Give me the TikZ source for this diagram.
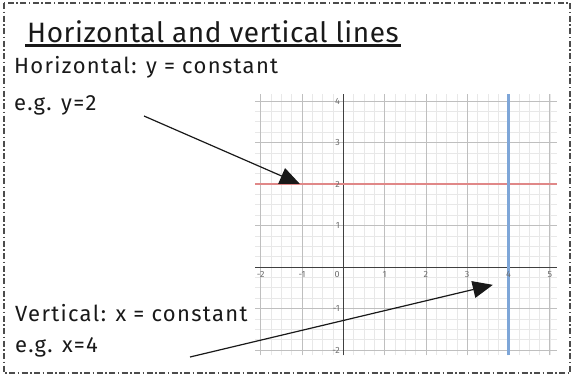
\documentclass[tikz,border=0pt]{standalone}
\usepackage{fontspec}
\setmainfont{Fira Sans}
\newfontfamily\handfont{Fira Sans}[LetterSpace=6]
\newfontfamily\handtitlefont{Fira Sans}[LetterSpace=2]
\usepackage{tikz}
\usetikzlibrary{arrows.meta, calc}
\definecolor{figRed}{RGB}{224,136,136}
\definecolor{figBlue}{RGB}{126,166,216}
\definecolor{figInk}{RGB}{25,25,25}
\definecolor{figTick}{RGB}{110,110,110}
\tikzset{
  handtext/.style={anchor=base west, inner sep=0pt, text=figInk, font=\handfont\fontsize{22}{26}\selectfont},
  minorgrid/.style={draw=black!9, line width=0.6pt},
  majorgrid/.style={draw=black!25, line width=0.8pt},
  axisline/.style={draw=black!75, line width=0.9pt},
  ticklab/.style={inner sep=0pt, text=figTick, font=\fontsize{9}{10}\selectfont},
  pointer/.style={-{Triangle[length=20pt, width=17pt]}, line width=1.2pt, figInk}
}

\begin{document}
\begin{tikzpicture}[x=1pt, y=-1pt]
\useasboundingbox (0,0) rectangle (573,376);
% dash-dot frame
\draw[black!70, line width=1.3pt, dash pattern=on 6pt off 2.5pt on 1.5pt off 2.5pt] (4,3) rectangle (570,373);
% the graph, in its own units
\begin{scope}[shift={(343.3,267)}, x=41.3pt, y=41.5pt]
  \foreach \i in {-8,...,20} \draw[minorgrid] (\i/4,-2.13) -- (\i/4,4.16);
  \foreach \j in {-8,...,16} \draw[minorgrid] (-2.13,\j/4) -- (5.18,\j/4);
  \foreach \i in {-2,...,5} \draw[majorgrid] (\i,-2.13) -- (\i,4.16);
  \foreach \j in {-2,...,4} \draw[majorgrid] (-2.13,\j) -- (5.18,\j);
  \draw[axisline] (-2.13,0) -- (5.18,0);
  \draw[axisline] (0,-2.13) -- (0,4.16);
  % y = 2 and x = 4
  \draw[figRed, line width=2.8pt] (-2.13,2) -- (5.18,2);
  \draw[figBlue, line width=2.6pt] (4,-2.13) -- (4,4.16);
  % tick labels
  \foreach \i in {-2,-1,1,2,3,4,5} \node[ticklab] (xl\i) at (\i,-0.19) {\i};
  \node[ticklab] (xl0) at (-0.15,-0.19) {0};
  \foreach \j in {-2,-1,1,2,3,4} \node[ticklab, anchor=east] (yl\j) at (-0.08,\j) {\j};
  % arrow tips
  \coordinate (htip) at (-1.05,2);
  \coordinate (vtip) at (3.62,-0.43);
\end{scope}
% texts
\node[handtext, font=\handtitlefont\fontsize{28}{32}\selectfont] (title) at (27,42) {Horizontal and vertical lines};
\draw[figInk, line width=2.2pt] (25,45.5) -- (401,45.5);
\node[handtext] (horiz) at (14,73) {Horizontal: y = constant};
\node[handtext] (horizeg) at (14,110) {e.g. y=2};
\node[handtext] (vert) at (15,321) {Vertical: x = constant};
\node[handtext] (verteg) at (15,352) {e.g. x=4};
% pointers
\coordinate (hstart) at (144,116);
\coordinate (vstart) at (190,357);
\draw[pointer] (hstart) -- (htip);
\draw[pointer] (vstart) -- (vtip);
\end{tikzpicture}
\end{document}
